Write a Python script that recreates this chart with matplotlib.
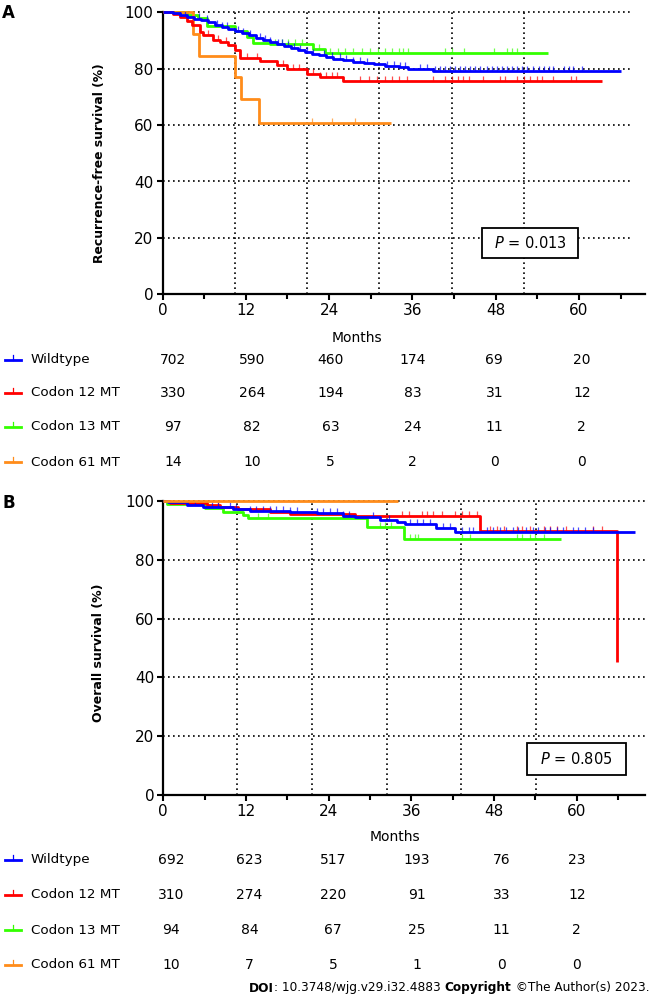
import matplotlib
matplotlib.use("Agg")
import matplotlib.pyplot as plt
import numpy as np
from matplotlib.lines import Line2D
from matplotlib.patches import Rectangle
from matplotlib.transforms import blended_transform_factory

plt.rcParams['font.family'] = ['DejaVu Sans']
plt.rcParams['mathtext.fontset'] = 'dejavusans'

groups = ["Wildtype", "Codon 12 MT", "Codon 13 MT", "Codon 61 MT"]
colors = ["#0000FF", "#FF0000", "#33FF00", "#FF8C1A"]
risk_months = [0, 12, 24, 36, 48, 60]

# --- Panel A: recurrence-free survival ---
rfs_wt_t = [0, 1.5, 2.5, 3.5, 4.5, 5.5, 6.5, 7.5, 8.5, 9.5, 10.5, 11.5, 12.5, 13.5, 14.5, 15.5,
            16.5, 17.5, 18.5, 19.5, 20.5, 21.5, 22.5, 23.5, 24.5, 26, 27.5, 29, 30.5, 32, 34, 35.4, 39]
rfs_wt_s = [100, 99.6, 99.1, 98.5, 97.8, 97.1, 96.4, 95.6, 94.9, 94.1, 93.3, 92.5, 91.8, 91.0, 90.2, 89.4,
            88.7, 87.9, 87.2, 86.5, 85.8, 85.2, 84.7, 84.1, 83.6, 83.0, 82.5, 82.0, 81.5, 81.0, 80.5, 79.9, 79.2]
rfs_c12_t = [0, 1.5, 2.5, 3.5, 4.2, 5.4, 5.8, 7.3, 8.3, 9.5, 10.4, 11.2, 14, 16.5, 17.9, 20.8, 22.7, 26]
rfs_c12_s = [100, 99.4, 98.5, 97, 95.5, 93, 92, 90.2, 89.6, 88.5, 86.6, 83.9, 82.7, 81.2, 79.9, 78.1, 76.9, 75.6]
rfs_c13_t = [0, 3.5, 5.1, 6.4, 10.4, 12.1, 13, 15.5, 21.7, 23.4]
rfs_c13_s = [100, 99, 97.9, 95, 93.3, 91.4, 89, 88.6, 87.0, 85.5]
rfs_c61_t = [0, 4.4, 5.2, 10.45, 11.3, 13.9]
rfs_c61_s = [100, 92.3, 84.6, 76.9, 69.2, 60.6]
rfs_end = [66, 63.3, 55.5, 32.9]

rfs_wt_cens = [1.3, 2.5, 3.2, 5.2, 6.4, 7.8, 8.5, 9.3, 10.9, 11.6, 12.6, 14.0, 14.8, 15.5, 16.7, 17.2,
               18.1, 18.9, 19.8, 20.8, 21.7, 23.2, 24.4, 25.6, 26.5, 27.5, 28.5, 29.4, 32.3, 33.3, 34.2,
               34.9, 37.1, 38.1, 39.3, 40.0, 40.7, 41.4, 42.2, 42.9, 43.6, 44.3, 45.0, 45.8, 46.7, 47.4,
               48.2, 48.9, 49.6, 50.3, 51.0, 51.8, 52.5, 53.4, 54.2, 54.9, 55.6, 56.3, 57.8, 58.5, 59.2, 60.4]
rfs_c12_cens = [6.6, 8.0, 9.2, 12.1, 13.6, 17.4, 18.8, 19.6, 21.7, 22.7, 23.6, 24.4, 25.1, 28.5, 29.7,
                30.9, 32.1, 33.0, 34.0, 35.2, 39.0, 40.7, 41.7, 42.6, 43.3, 44.1, 46.2, 48.6, 49.3, 51.0,
                52.0, 52.9, 53.9, 54.6, 56.3, 58.9, 59.6]
rfs_c13_cens = [12.1, 16.2, 17.2, 18.1, 19.1, 20.1, 22.5, 24.1, 25.3, 26.3, 27.5, 28.7, 29.9, 31.1, 32.1,
                33.0, 34.0, 34.7, 35.4, 40.7, 41.7, 43.4, 47.7, 49.6, 50.4, 51.1]
rfs_c61_cens = [21.5, 24.4, 27.7]

rfs_risk = [[702, 590, 460, 174, 69, 20],
            [330, 264, 194, 83, 31, 12],
            [97, 82, 63, 24, 11, 2],
            [14, 10, 5, 2, 0, 0]]

# --- Panel B: overall survival ---
os_wt_t = [0, 0.7, 3.4, 5.8, 10.1, 12.6, 18.4, 22.3, 26.1, 27.8, 31.4, 33.9, 35.1, 39.6, 42.3]
os_wt_s = [100, 99.6, 98.6, 97.8, 97.3, 96.7, 96.4, 95.8, 95.0, 94.5, 93.5, 93.0, 92.2, 90.7, 89.3]
os_c12_t = [0, 1, 6.3, 8.2, 10.8, 15.5, 18.4, 27.8, 46, 65.9]
os_c12_s = [100, 99.4, 98.6, 98, 97.2, 96.3, 95.6, 94.8, 89.8, 45.3]
os_c13_t = [0, 0.5, 6.1, 8.7, 11.6, 12.3, 29.5, 34.9]
os_c13_s = [100, 98.9, 97.7, 96.2, 95.2, 94.1, 91.3, 87.0]
os_c61_t = [0]
os_c61_s = [100]
os_end = [68.5, 65.9, 57.7, 34.1]

os_wt_cens = [1.0, 1.7, 2.7, 3.6, 4.6, 7.0, 8.0, 9.7, 10.6, 12.6, 13.5, 14.5, 15.5, 16.4, 17.4, 18.4,
              19.4, 22.3, 23.2, 24.2, 25.2, 26.1, 26.9, 30.5, 32.7, 35.8, 36.8, 37.7, 38.7, 40.6, 41.6,
              43.3, 44.3, 45.0, 46.9, 47.9, 48.9, 49.8, 50.8, 51.5, 52.7, 53.7, 54.4, 55.4, 56.1, 57.1,
              58.0, 59.5, 60.2, 61.2, 62.4]
os_c12_cens = [1.2, 3.4, 4.4, 5.3, 6.3, 8.0, 34.6, 35.6, 37.5, 38.2, 39.2, 40.4, 42.3, 43.3, 44.3, 45.5,
               47.4, 48.4, 49.4, 51.3, 52.0, 53.2, 55.2, 56.1, 57.1, 58.5, 62.4, 63.6]
os_c13_cens = [13.8, 15.2, 31.4, 32.2, 33.1, 35.8, 36.5, 37.0, 43.3, 44.5, 51.3, 52.0, 53.2, 53.9, 55.2]
os_c61_cens = [11.6, 14.4, 21.6, 22.5, 25.2, 28.8]

os_risk = [[692, 623, 517, 193, 76, 23],
           [310, 274, 220, 91, 33, 12],
           [94, 84, 67, 25, 11, 2],
           [10, 7, 5, 1, 0, 0]]

W, H = 651, 1000
fig = plt.figure(figsize=(6.51, 10), dpi=100)


def px(x, y):
    # pixel position (from top-left) to figure fraction
    return x / W, 1 - y / H


def km_panel(ax, curves, cens, ends, zorders, tick_h, xmax, vgrid, hgrid_end):
    for x in vgrid:
        ax.plot([x, x], [0, 100], color="black", ls=(0, (1, 2)), lw=1.2, zorder=1, clip_on=False)
    for y in [20, 40, 60, 80, 100]:
        ax.plot([0, hgrid_end], [y, y], color="black", ls=(0, (1, 2)), lw=1.2, zorder=1, clip_on=False)
    for (t, s), ct, end, col, z in zip(curves, cens, ends, colors, zorders):
        t = np.array(t + [end])
        s = np.array(s + [s[-1]])
        ax.step(t, s, where="post", color=col, lw=2.0, zorder=z, clip_on=False, solid_capstyle="butt")
        ct = np.array(ct)
        sv = s[np.searchsorted(t, ct, side="right") - 1]
        ax.vlines(ct, sv, sv + tick_h, color=col, lw=0.9, alpha=0.7, zorder=z)
    ax.set_xlim(0, xmax)
    ax.set_ylim(0, 100)
    ax.set_xticks(risk_months)
    ax.set_xticks([6, 18, 30, 42, 54, 66], minor=True)
    ax.set_yticks([0, 20, 40, 60, 80, 100])
    for side in ["top", "right"]:
        ax.spines[side].set_visible(False)
    for side in ["left", "bottom"]:
        ax.spines[side].set_linewidth(1.6)
    ax.tick_params(which="major", length=4.5, width=1.5, labelsize=11, pad=2)
    ax.tick_params(which="minor", length=3.5, width=1.5)
    ax.set_xlabel("Months", fontsize=10)


def risk_table(ax, counts, col_x, row_y):
    tr = blended_transform_factory(ax.transData, fig.transFigure)
    for row, y, name, col in zip(counts, row_y, groups, colors):
        fy = 1 - y / H
        for n, x in zip(row, col_x):
            fig.text(x, fy, str(n), transform=tr, ha="center", va="center", fontsize=10)
        fig.text(31 / W, fy, name, ha="left", va="center", fontsize=9.7)
        fig.add_artist(Line2D([5 / W, 21 / W], [fy, fy], color=col, lw=2))
        fig.add_artist(Line2D([13 / W, 13 / W], [fy, fy + 5 / H], color=col, lw=0.9))


def p_box(x0, y0, x1, y1, label):
    fx0, fy1 = px(x0, y1)
    fx1, fy0 = px(x1, y0)
    fig.add_artist(Rectangle((fx0, fy1), fx1 - fx0, fy0 - fy1, transform=fig.transFigure,
                             facecolor="white", edgecolor="black", lw=1.3, zorder=2))
    fig.text((fx0 + fx1) / 2, (fy0 + fy1) / 2, label, ha="center", va="center", fontsize=10.5, zorder=3)


# Panel A
axA = fig.add_axes([162.5 / W, 1 - 294.3 / H, 482.5 / W, 282 / H])
km_panel(axA, [(rfs_wt_t, rfs_wt_s), (rfs_c12_t, rfs_c12_s), (rfs_c13_t, rfs_c13_s), (rfs_c61_t, rfs_c61_s)],
         [rfs_wt_cens, rfs_c12_cens, rfs_c13_cens, rfs_c61_cens], rfs_end, [5, 4, 3, 3.5], 1.8, 69.5,
         [10.42, 20.83, 31.25, 41.67, 52.08], 67.6)
axA.set_ylabel("Recurrence-free survival (%)", fontsize=8.9, fontweight="bold")
axA.yaxis.set_label_coords(-0.118, 0.466)
axA.xaxis.set_label_coords(0.403, -0.13)
risk_table(axA, rfs_risk, [1.5, 12.9, 24.2, 36, 47.8, 60.4], [360, 393, 427, 462])
p_box(482, 228, 578, 258, "$P$ = 0.013")
fig.text(2 / W, 1 - 13 / H, "A", fontsize=12, fontweight="bold", ha="left", va="center")

# Panel B
axB = fig.add_axes([163.3 / W, 1 - 795 / H, 481.7 / W, 294 / H])
km_panel(axB, [(os_wt_t, os_wt_s), (os_c12_t, os_c12_s), (os_c13_t, os_c13_s), (os_c61_t, os_c61_s)],
         [os_wt_cens, os_c12_cens, os_c13_cens, os_c61_cens], os_end, [5, 4, 3, 6], 1.7, 69.9,
         [10.75, 21.6, 32.4, 43.2, 54.1], 69.9)
axB.set_ylabel("Overall survival (%)", fontsize=9, fontweight="bold")
axB.yaxis.set_label_coords(-0.12, 0.485)
axB.xaxis.set_label_coords(0.48, -0.12)
risk_table(axB, os_risk, [1.1, 12.5, 24.6, 36.8, 49.1, 60.0], [860, 895, 930, 965])
p_box(527, 743, 626, 775, "$P$ = 0.805")
fig.text(2 / W, 1 - 503 / H, "B", fontsize=12, fontweight="bold", ha="left", va="center")

# footer, built right to left
renderer = fig.canvas.get_renderer()
pieces = [("DOI", "bold"), (": 10.3748/wjg.v29.i32.4883 ", "normal"),
          ("Copyright", "bold"), (" \u00a9The Author(s) 2023.", "normal")]
x_right = 649 / W
for s, wgt in reversed(pieces):
    t = fig.text(x_right, 1 - 988 / H, s, fontsize=8.7, fontweight=wgt, ha="right", va="center")
    bb = t.get_window_extent(renderer)
    x_right = bb.x0 / fig.bbox.width

fig.savefig("out.png", dpi=100)
